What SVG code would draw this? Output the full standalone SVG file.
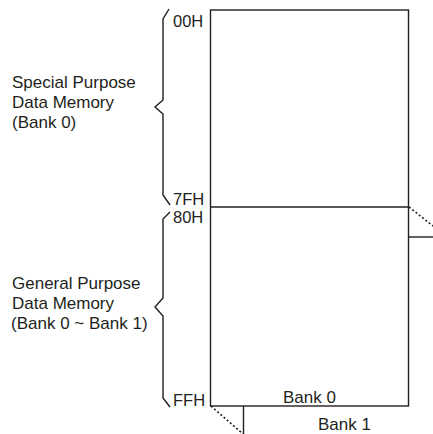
<svg xmlns="http://www.w3.org/2000/svg" width="433" height="434" viewBox="0 0 433 434">
<style>
.ln{fill:none;stroke:#231f20;stroke-width:1.4;stroke-linejoin:miter}
.dot{fill:none;stroke:#231f20;stroke-width:1.6;stroke-dasharray:2 2.2}
.t{font-family:"Liberation Sans",Arial,sans-serif;font-size:17px;fill:#231f20}
.a{font-size:16.5px}
</style>
<rect width="433" height="434" fill="#fff"/>
<g id="memory">
<rect class="ln" x="210.5" y="10" width="198" height="396"/>
<line class="ln" x1="210.5" y1="207" x2="408.5" y2="207"/>
<text class="t" x="283" y="403">Bank 0</text>
</g>
<g id="bank1">
<line class="ln" x1="408.5" y1="237" x2="433" y2="237"/>
<line class="ln" x1="243.5" y1="406" x2="243.5" y2="434"/>
<text class="t" x="318" y="430">Bank 1</text>
</g>
<g id="connectors">
<line class="dot" x1="409" y1="207" x2="433" y2="226"/>
<line class="dot" x1="211" y1="406" x2="243" y2="434"/>
</g>
<g id="special">
<path class="ln" d="M169,9 L163,19 L163,100 L155,107 L163,114 L163,195 L170,205"/>
<text class="t" x="12" y="87.5">Special Purpose</text>
<text class="t" x="12" y="108">Data Memory</text>
<text class="t" x="12" y="128">(Bank 0)</text>
</g>
<g id="general">
<path class="ln" d="M170,212 L163,219 L163,298 L155,307 L163,316 L163,398 L170,407"/>
<text class="t" x="12" y="289">General Purpose</text>
<text class="t" x="12" y="309">Data Memory</text>
<text class="t" x="11" y="329">(Bank 0 ~ Bank 1)</text>
</g>
<g id="addresses">
<text class="t a" x="173" y="27">00H</text>
<text class="t a" x="173" y="204.5">7FH</text>
<text class="t a" x="173" y="222.5">80H</text>
<text class="t a" x="173" y="406">FFH</text>
</g>
</svg>
